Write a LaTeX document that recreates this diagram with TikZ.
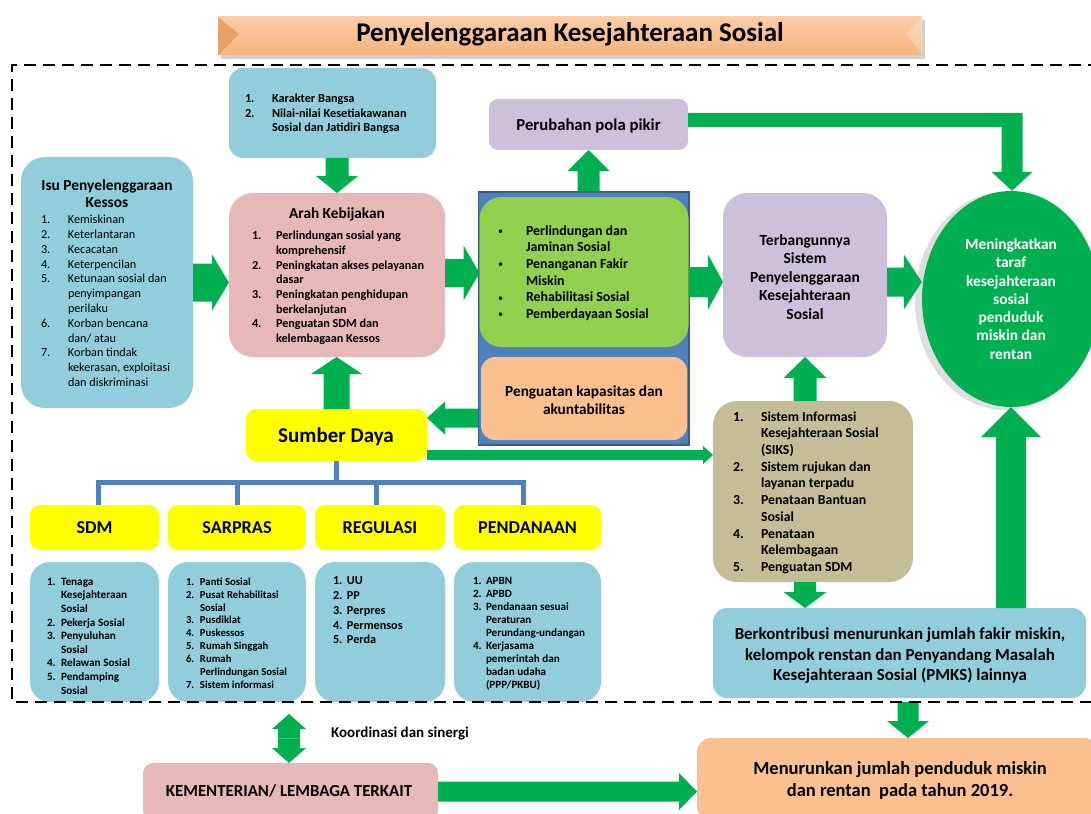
\documentclass[tikz,border=0pt]{standalone}
\usepackage{fontspec}
\setmainfont{Carlito}
\usetikzlibrary{calc,fit,shapes.geometric}
\definecolor{ag}{HTML}{00B050}
\definecolor{lb}{HTML}{92CDDC}
\definecolor{pk}{HTML}{E6B8B7}
\definecolor{lv}{HTML}{CCC0DA}
\definecolor{lg}{HTML}{92D050}
\definecolor{pc}{HTML}{FAC090}
\definecolor{kh}{HTML}{C4BD97}
\definecolor{bl}{HTML}{4F81BD}
\definecolor{dbl}{HTML}{385D8A}
\definecolor{yl}{HTML}{FFFF00}
\definecolor{ttop}{HTML}{FACDA6}
\definecolor{tbot}{HTML}{F5B47E}
\definecolor{twedge}{HTML}{E59A5E}
\newlength\lw
\newcommand\li[2]{\makebox[\lw][l]{#1}#2}
\newcommand\lc[1]{\hspace*{\lw}#1}
\newcommand\fs[2]{\fontsize{#1}{#2}\selectfont}
\newcommand\bul{{\mdseries\fontsize{10}{10}\selectfont\raisebox{0.5pt}{•}}}
\newcommand\barr[5]{%
 \fill[ag] let \p1=#1, \p2=#2,
   \n1={veclen(\x2-\x1,\y2-\y1)},
   \n2={(\x2-\x1)/\n1}, \n3={(\y2-\y1)/\n1}, \n4={\n1-#5}
 in ({\x1+#3*\n3},{\y1-#3*\n2})
 -- ({\x1+\n4*\n2+#3*\n3},{\y1+\n4*\n3-#3*\n2})
 -- ({\x1+\n4*\n2+#4*\n3},{\y1+\n4*\n3-#4*\n2})
 -- (\p2)
 -- ({\x1+\n4*\n2-#4*\n3},{\y1+\n4*\n3+#4*\n2})
 -- ({\x1+\n4*\n2-#3*\n3},{\y1+\n4*\n3+#3*\n2})
 -- ({\x1-#3*\n3},{\y1+#3*\n2}) -- cycle;}
\tikzset{
 bx/.style={inner sep=0pt, outer sep=0pt, rounded corners=#1},
 txt/.style={anchor=north west, inner sep=0pt, outer sep=0pt, align=left},
 ctr/.style={inner sep=0pt, outer sep=0pt, align=center},
 tree/.style={draw=bl, line width=5pt},
}
\begin{document}
\begin{tikzpicture}[x=1pt,y=1pt]
\useasboundingbox (0,0) rectangle (1091,-813);
\clip (0,0) rectangle (1091,-813);
\fill[white] (0,0) rectangle (1091,-813);
% title
\fill[black, opacity=0.18] (221,-20) rectangle (925,-59);
\node[inner sep=0, top color=ttop, bottom color=tbot, fit={(218,-17) (922,-55)}] (titlebox) {};
\fill[twedge, opacity=0.8] (218,-17) -- (239,-34) -- (218,-55) -- cycle;
\fill[white, opacity=0.25] (922,-17) -- (906,-34) -- (922,-55) -- cycle;
\node[ctr, font=\fs{27}{30}\bfseries] (title) at (570,-34) {Penyelenggaraan Kesejahteraan Sosial};
% boxes
\node[bx=14pt, fill=lb, fit={(229,-68) (436,-158)}] (kar) {};
\node[bx=24pt, fill=lb, fit={(21,-157) (193,-408)}] (isu) {};
\node[bx=24pt, fill=pk, fit={(229,-193) (445,-357)}] (arah) {};
\node[bx=9pt, fill=lv, fit={(489,-99) (688,-150)}] (per) {};
\node[inner sep=0, fill=bl, draw=dbl, line width=1.5pt, fit={(478.5,-192) (689,-445)}] (cont) {};
\node[bx=22pt, fill=lg, fit={(479.5,-197) (688.5,-347)}] (grn) {};
\node[bx=14pt, fill=pc, fit={(481,-357) (687,-440)}] (peng) {};
\node[bx=24pt, fill=lv, fit={(723,-193) (887,-357)}] (terb) {};
\fill[black, opacity=0.13] (1005,-301) ellipse [x radius=90, y radius=109];
\node[ellipse, fill=ag, inner sep=0, minimum width=178, minimum height=216, align=center, text=white, font=\fs{15.4}{18.3}\bfseries] (ell) at (1011,-299) {Meningkatkan\\taraf\\kesejahteraan\\sosial\\penduduk\\miskin dan\\rentan};
\node[bx=24pt, fill=kh, fit={(713,-401) (913,-582)}] (siks) {};
\node[bx=14pt, fill=lb, fit={(713,-608) (1086,-698)}] (berk) {};
\node[bx=14pt, fill=pc, fit={(697,-738) (1098,-820)}] (men) {};
\node[bx=10pt, fill=yl, fit={(246,-409) (427,-461)}] (sd) {};
\node[bx=10pt, fill=yl, fit={(30,-505) (159,-550)}] (sdm) {};
\node[bx=10pt, fill=yl, fit={(168,-505) (306,-550)}] (sarp) {};
\node[bx=10pt, fill=yl, fit={(315,-505) (445,-550)}] (reg) {};
\node[bx=10pt, fill=yl, fit={(454,-505) (601,-550)}] (pend) {};
\node[bx=20pt, fill=lb, fit={(30,-562) (159,-702)}] (sdml) {};
\node[bx=20pt, fill=lb, fit={(168,-562) (306,-702)}] (sarpl) {};
\node[bx=20pt, fill=lb, fit={(315,-562) (445,-702)}] (regl) {};
\node[bx=20pt, fill=lb, fit={(454,-562) (601,-702)}] (pendl) {};
\node[bx=10pt, fill=pk, fit={(143,-763) (438,-820)}] (kem) {};
% centred texts
\node[ctr, font=\fs{16.7}{20}\bfseries] (pert) at (588.5,-126) {Perubahan pola pikir};
\node[ctr, font=\fs{15.3}{18}\bfseries] (pengt) at (584,-400) {Penguatan kapasitas dan\\akuntabilitas};
\node[ctr, font=\fs{15.5}{18.5}\bfseries] (terbt) at (805,-277) {Terbangunnya\\Sistem\\Penyelenggaraan\\Kesejahteraan\\Sosial};
\node[ctr, font=\fs{16.9}{20.5}\bfseries] (berkt) at (900,-655.5) {Berkontribusi menurunkan jumlah fakir miskin,\\kelompok renstan dan Penyandang Masalah\\Kesejahteraan Sosial (PMKS) lainnya};
\node[ctr, font=\fs{18.5}{22}\bfseries] (ment) at (900,-780) {Menurunkan jumlah penduduk miskin\\dan rentan\ \ pada tahun 2019.};
\node[ctr, font=\fs{21}{24}\bfseries] (sdt) at (336,-437) {Sumber Daya};
\node[ctr, font=\fs{18.2}{20}\bfseries] (sdmh) at ($(sdm.center)+(0,-0.5)$) {SDM};
\node[ctr, font=\fs{18.2}{20}\bfseries] (sarph) at ($(sarp.center)+(0,-0.5)$) {SARPRAS};
\node[ctr, font=\fs{18.2}{20}\bfseries] (regh) at ($(reg.center)+(0,-0.5)$) {REGULASI};
\node[ctr, font=\fs{18.2}{20}\bfseries] (pendh) at ($(pend.center)+(0,-0.5)$) {PENDANAAN};
\node[ctr, font=\fs{16.8}{20}\bfseries] (kemt) at (289,-790.5) {KEMENTERIAN/ LEMBAGA TERKAIT};
% list texts
\node[ctr, font=\fs{15.4}{17.2}\bfseries] (isuh) at (107,-194) {Isu Penyelenggaraan\\Kessos};
\node[txt, font=\fs{12.2}{14.8}\setlength\lw{27pt}] (isut) at (41,-213.3) {\strut\li{1.}{Kemiskinan}\\\li{2.}{Keterlantaran}\\\li{3.}{Kecacatan}\\\li{4.}{Keterpencilan}\\\li{5.}{Ketunaan sosial dan}\\\lc{penyimpangan}\\\lc{perilaku}\\\li{6.}{Korban bencana}\\\lc{dan/ atau}\\\li{7.}{Korban tindak}\\\lc{kekerasan, exploitasi}\\\lc{dan diskriminasi}};
\node[txt, font=\fs{12.3}{14.5}\bfseries\setlength\lw{27pt}] (kart) at (245,-92.5) {\strut\li{1.}{Karakter Bangsa}\\\li{2.}{Nilai-nilai Kesetiakawanan}\\\lc{Sosial dan Jatidiri Bangsa}};
\node[ctr, font=\fs{15.3}{18}\bfseries] (arahh) at (337,-214) {Arah Kebijakan};
\node[txt, font=\fs{12.2}{14.7}\bfseries\setlength\lw{24pt}] (araht) at (252,-229.4) {\strut\li{1.}{Perlindungan sosial yang}\\\lc{komprehensif}\\\li{2.}{Peningkatan akses pelayanan}\\\lc{dasar}\\\li{3.}{Peningkatan penghidupan}\\\lc{berkelanjutan}\\\li{4.}{Penguatan SDM dan}\\\lc{kelembagaan Kessos}};
\node[txt, font=\fs{13.9}{16.6}\bfseries\setlength\lw{28pt}] (grnt) at (498,-223.6) {\strut\li{\bul}{Perlindungan dan}\\\lc{Jaminan Sosial}\\\li{\bul}{Penanganan Fakir}\\\lc{Miskin}\\\li{\bul}{Rehabilitasi Sosial}\\\li{\bul}{Pemberdayaan Sosial}};
\node[txt, font=\fs{13.8}{16.7}\bfseries\setlength\lw{28pt}] (sikst) at (733,-409.5) {\strut\li{1.}{Sistem Informasi}\\\lc{Kesejahteraan Sosial}\\\lc{(SIKS)}\\\li{2.}{Sistem rujukan dan}\\\lc{layanan terpadu}\\\li{3.}{Penataan Bantuan}\\\lc{Sosial}\\\li{4.}{Penataan}\\\lc{Kelembagaan}\\\li{5.}{Penguatan SDM}};
\node[txt, font=\fs{11.2}{13.6}\bfseries\setlength\lw{14pt}] (sdmt) at (47,-575.8) {\strut\li{1.}{Tenaga}\\\lc{Kesejahteraan}\\\lc{Sosial}\\\li{2.}{Pekerja Sosial}\\\li{3.}{Penyuluhan}\\\lc{Sosial}\\\li{4.}{Relawan Sosial}\\\li{5.}{Pendamping}\\\lc{Sosial}};
\node[txt, font=\fs{10.7}{12.9}\bfseries\setlength\lw{14pt}] (sarpt) at (186,-576.2) {\strut\li{1.}{Panti Sosial}\\\li{2.}{Pusat Rehabilitasi}\\\lc{Sosial}\\\li{3.}{Pusdiklat}\\\li{4.}{Puskessos}\\\li{5.}{Rumah Singgah}\\\li{6.}{Rumah}\\\lc{Perlindungan Sosial}\\\li{7.}{Sistem informasi}};
\node[txt, font=\fs{12.2}{14.8}\bfseries\setlength\lw{14pt}] (regt) at (333,-574.3) {\strut\li{1.}{UU}\\\li{2.}{PP}\\\li{3.}{Perpres}\\\li{4.}{Permensos}\\\li{5.}{Perda}};
\node[txt, font=\fs{11.1}{13}\bfseries\setlength\lw{13pt}] (pendt) at (473,-575.2) {\strut\li{1.}{APBN}\\\li{2.}{APBD}\\\li{3.}{Pendanaan sesuai}\\\lc{Peraturan}\\\lc{Perundang-undangan}\\\li{4.}{Kerjasama}\\\lc{pemerintah dan}\\\lc{badan udaha}\\\lc{(PPP/PKBU)}};
\node[anchor=west, inner sep=0, font=\fs{15}{17}\bfseries] (koor) at (331,-733) {Koordinasi dan sinergi};
% tree
\coordinate (tr) at ($(sd.south)+(0,-21)$);
\coordinate (t1) at ($(sdm.north)+(3.5,0)$);
\coordinate (t3) at ($(reg.north)+(-4,0)$);
\coordinate (t4) at ($(pend.north)+(-4.5,0)$);
\draw[tree] (t1) |- (tr) -| (t4);
\draw[tree] (sarp.north) -- (sarp.north |- tr);
\draw[tree] (t3) -- (t3 |- tr);
\draw[tree] (sd.south) -- (tr);
% arrows
\barr{(kar.south -| arah.north)}{(arah.north)}{11.5}{21}{17}
\barr{(isu.east)}{(isu.east -| arah.west)}{19}{28}{17}
\barr{(sd.north)}{(sd.north |- arah.south)}{13}{25.5}{17}
\barr{($(arah.east)+(0,2)$)}{($(arah.east -| grn.west)+(0,2)$)}{14}{27.5}{16}
\barr{(per.south |- cont.north)}{(per.south)}{11}{21}{21}
\barr{($(grn.east)+(0,-10)$)}{($(grn.east -| terb.west)+(0,-10)$)}{15}{27.5}{15}
\barr{($(terb.east)+(0,-7)$)}{($(terb.east -| ell.west)+(0,-7)$)}{14.5}{27.5}{18}
\barr{(siks.north -| terb.south)}{(terb.south)}{11.5}{21.5}{21}
\barr{(siks.south -| terb.south)}{(terb.south |- berk.north)}{11}{21.5}{16}
\barr{(berk.north -| ell.south)}{(ell.south)}{15}{30}{30}
\barr{($(berk.south)+(8.5,-4)$)}{($(berk.south |- men.north)+(8.5,0)$)}{10.5}{21}{17}
\barr{($(sd.east -| cont.west)+(0,17)$)}{($(sd.east)+(0,17)$)}{9.5}{16.5}{18}
\barr{($(sd.east)+(0,-20)$)}{($(sd.east -| siks.west)+(0,-20)$)}{5}{9}{10}
\barr{(kem.east)}{(kem.east -| men.west)}{10}{18.5}{18}
\coordinate (dtop) at ($(kem.north)+(-1.5,49)$);
\coordinate (dmid) at ($(kem.north)+(-1.5,24.5)$);
\coordinate (dbot) at ($(kem.north)+(-1.5,0)$);
\barr{(dmid)}{(dtop)}{11}{17}{15}
\barr{(dmid)}{(dbot)}{11}{17}{15}
\fill[ag] let \p1=(per.east), \p2=(ell.north) in
 (\x1,\y1+11.5pt) -- (\x2+11.5pt,\y1+11.5pt) -- (\x2+11.5pt,\y2+19pt) -- (\x2+21.5pt,\y2+19pt)
 -- (\x2+1pt,\y2) -- (\x2-19.5pt,\y2+19pt) -- (\x2-9.5pt,\y2+19pt) -- (\x2-9.5pt,\y1-2.5pt)
 -- (\x1,\y1-2.5pt) -- cycle;
% dashed frame
\draw[line width=2.6pt, dash pattern=on 12pt off 7pt] (1100,-65) -- (12,-65) -- (12,-702) -- (1100,-702);
\end{tikzpicture}
\end{document}
